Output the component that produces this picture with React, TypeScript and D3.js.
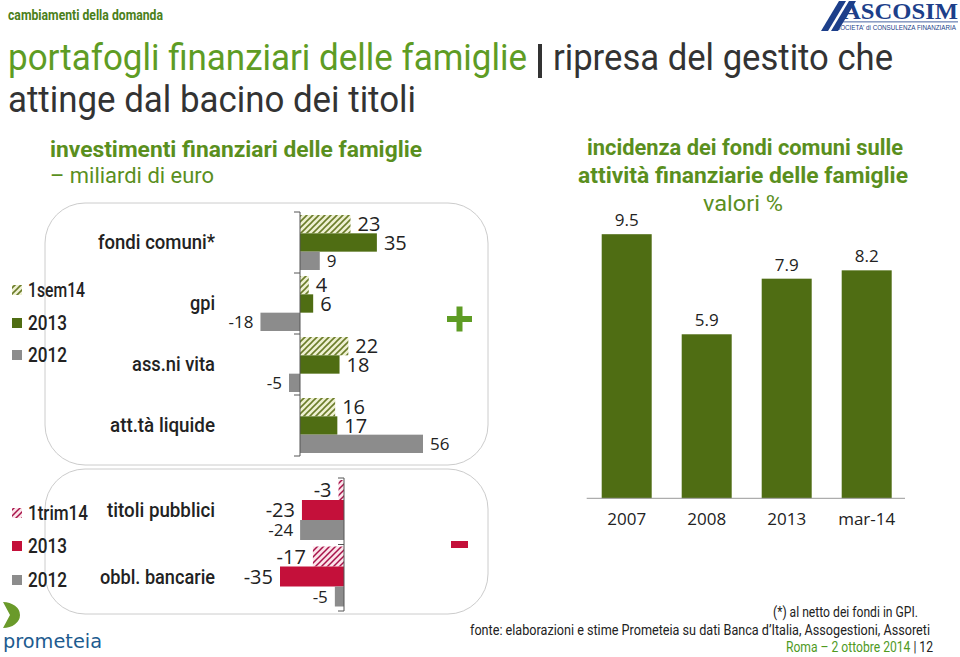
import React from 'react';
import * as d3 from 'd3';

// ---------- data ----------
const topCategories = ["fondi comuni*", "gpi", "ass.ni vita", "att.tà liquide"];
const topSeries = ["1sem14", "2013", "2012"];
const top1sem14 = [23, 4, 22, 16];
const top2013 = [35, 6, 18, 17];
const top2012 = [9, -18, -5, 56];

const bottomCategories = ["titoli pubblici", "obbl. bancarie"];
const bottomSeries = ["1trim14", "2013", "2012"];
const bottom1trim14 = [-3, -17];
const bottom2013 = [-23, -35];
const bottom2012 = [-24, -5];

const shareCategories = ["2007", "2008", "2013", "mar-14"];
const shareValues = [9.5, 5.9, 7.9, 8.2];

// ---------- styles ----------
const COND = "'Roboto', 'Liberation Sans', sans-serif";
const NUM = "'Open Sans', 'Liberation Sans', sans-serif";
const GREEN_DARK = "#4f6d13";
const GREEN_TITLE = "#5e9c24";
const GREEN_SUB = "#5a8f1e";
const GRAY = "#8c8c8c";
const RED = "#c4103a";
const TEXT = "#222222";
const DARK = "#333333";

// widths of category / legend labels in the reference (text fitting)
const topCatWidth = [117, 25, 83, 105];
const bottomCatWidth = [108, 115];
const topLegendWidth = [57, 39, 39];
const bottomLegendWidth = [60, 39, 39];

const T = (props: any) => {
  const { w, children, ...rest } = props;
  return (
    <text {...rest} textLength={w} lengthAdjust={w ? 'spacingAndGlyphs' : undefined}>{children}</text>
  );
};

export default function App() {
  // top chart
  const xTop = d3.scaleLinear().domain([0, 56]).range([300, 423]);
  const yTop = d3.scaleBand<string>().domain(topCategories).range([212, 456]);
  const subTop = d3.scaleBand<string>().domain(topSeries).range([3, 58]);
  const topData = [top1sem14, top2013, top2012];
  const topFill = ["url(#hatchG)", GREEN_DARK, GRAY];
  const topLabelSize = [20, 20, 17];

  // bottom chart
  const xBot = d3.scaleLinear().domain([-35, 0]).range([280, 344]);
  const yBot = d3.scaleBand<string>().domain(bottomCategories).range([478, 611]);
  const subBot = d3.scaleBand<string>().domain(bottomSeries).range([2, 62]);
  const botData = [bottom1trim14, bottom2013, bottom2012];
  const botFill = ["url(#hatchR)", RED, GRAY];
  const botLabelSize = [20, 20, 17];

  // right chart
  const xShare = d3.scaleBand<string>().domain(shareCategories).range([586.7, 906.7]).paddingInner(0.375).paddingOuter(0.1875);
  const yShare = d3.scaleLinear().domain([0, 10]).range([498.3, 220.3]);

  const hBars = (
    cats: string[], series: string[], data: number[][], x: any, y: any, sub: any,
    fills: string[], sizes: number[]
  ) => {
    const out: any[] = [];
    cats.forEach((c, i) => {
      series.forEach((s, j) => {
        const v = data[j][i];
        const x0 = x(0), x1 = x(v);
        const yy = y(c) + sub(s);
        const h = sub.bandwidth();
        out.push(
          <rect key={`b-${c}-${s}`} x={Math.min(x0, x1)} y={yy} width={Math.abs(x1 - x0)} height={h} fill={fills[j]} />
        );
        out.push(
          <text key={`t-${c}-${s}`} x={v >= 0 ? x1 + 7 : x1 - 7} y={yy + h / 2} dy="0.36em"
            textAnchor={v >= 0 ? 'start' : 'end'} fontFamily={NUM} fontSize={sizes[j]} fill={TEXT}>
            {v}
          </text>
        );
      });
    });
    return out;
  };

  const axis = (x0: number, y: any, n: number) => {
    const [r0, r1] = y.range();
    const ticks = d3.range(n + 1).map(i => r0 + i * y.step());
    return (
      <g stroke="#555" strokeWidth={1}>
        <line x1={x0} x2={x0} y1={r0} y2={r1} />
        {ticks.map((t, i) => <line key={i} x1={x0 - 6} x2={x0} y1={t} y2={t} />)}
      </g>
    );
  };

  const legend = (series: string[], fills: string[], widths: number[], baselines: number[]) =>
    series.map((s, i) => (
      <g key={s}>
        <rect x={12} y={baselines[i] - 12} width={10} height={10} fill={fills[i]} />
        <T x={28} y={baselines[i]} w={widths[i]} fontFamily={COND} fontWeight={500} fontSize={21} fill={TEXT}>{s}</T>
      </g>
    ));

  return (
    <svg width={960} height={657} style={{ position: 'absolute', left: 0, top: 0, display: 'block', background: '#fff' }}>
      <defs>
        <pattern id="hatchG" patternUnits="userSpaceOnUse" width={6} height={6}>
          <rect width={6} height={6} fill="#eef0d2" />
          <path d="M0,6 L6,0 M-1.5,1.5 L1.5,-1.5 M4.5,7.5 L7.5,4.5" stroke="#6b7d2a" strokeWidth={1.6} />
        </pattern>
        <pattern id="hatchR" patternUnits="userSpaceOnUse" width={6} height={6}>
          <rect width={6} height={6} fill="#fbe4ea" />
          <path d="M0,6 L6,0 M-1.5,1.5 L1.5,-1.5 M4.5,7.5 L7.5,4.5" stroke="#a8134a" strokeWidth={1.5} />
        </pattern>
      </defs>

      {/* header */}
      <T x={8} y={20} w={155} fontFamily={COND} fontWeight="bold" fontSize={14} fill="#4b7f1a">cambiamenti della domanda</T>
      <T x={8} y={70} w={519} fontFamily={COND} fontSize={37} fill={GREEN_TITLE}>portafogli finanziari delle famiglie</T>
      <rect x={538} y={44} width={4} height={34} fill={DARK} />
      <T x={553} y={70} w={340} fontFamily={COND} fontSize={37} fill={DARK}>ripresa del gestito che</T>
      <T x={8} y={112} w={408} fontFamily={COND} fontSize={37} fill={DARK}>attinge dal bacino dei titoli</T>

      {/* ASCOSIM logo */}
      <g fill="#1d3f8a">
        <path d="M821,31 L828,31 L846,1 L839,1 Z" />
        <path d="M831,31 L838,31 L856,1 L849,1 Z" />
        <T x={843} y={19} w={115} fontFamily="'Liberation Serif', serif" fontWeight="bold" fontSize={24}>ASCOSIM</T>
        <rect x={843} y={21.5} width={115} height={0.8} />
        <T x={836} y={29.5} w={120} fontFamily="'Liberation Sans', sans-serif" fontSize={6.5}>SOCIETA' di CONSULENZA FINANZIARIA</T>
      </g>

      {/* left subtitle */}
      <T x={50} y={157} w={372} fontFamily={COND} fontWeight="bold" fontSize={22} fill={GREEN_SUB}>investimenti finanziari delle famiglie</T>
      <T x={50} y={183} w={164} fontFamily={COND} fontSize={22} fill={GREEN_SUB}>– miliardi di euro</T>

      {/* boxes */}
      <rect x={45} y={203} width={443} height={262} rx={40} ry={40} fill="none" stroke="#cccccc" strokeWidth={1} />
      <rect x={45} y={469} width={443} height={145} rx={40} ry={40} fill="none" stroke="#cccccc" strokeWidth={1} />

      {/* top legend */}
      {legend(topSeries, ["url(#hatchG)", GREEN_DARK, GRAY], topLegendWidth, [297, 330, 362])}

      {/* top chart */}
      {topCategories.map((c, i) => (
        <T key={c} x={215} y={(yTop(c) as number) + yTop.bandwidth() / 2 + 6} w={topCatWidth[i]} textAnchor="end"
          fontFamily={COND} fontWeight={500} fontSize={20} fill={TEXT}>{c}</T>
      ))}
      {hBars(topCategories, topSeries, topData, xTop, yTop, subTop, topFill, topLabelSize)}
      {axis(xTop(0), yTop, topCategories.length)}

      {/* plus */}
      <rect x={447} y={316} width={25} height={6} fill={GREEN_TITLE} />
      <rect x={456.5} y={306.5} width={6} height={25} fill={GREEN_TITLE} />

      {/* bottom legend */}
      {legend(bottomSeries, ["url(#hatchR)", RED, GRAY], bottomLegendWidth, [520, 553, 587])}

      {/* bottom chart */}
      {bottomCategories.map((c, i) => (
        <T key={c} x={215} y={(yBot(c) as number) + yBot.bandwidth() / 2 + 6} w={bottomCatWidth[i]} textAnchor="end"
          fontFamily={COND} fontWeight={500} fontSize={20} fill={TEXT}>{c}</T>
      ))}
      {hBars(bottomCategories, bottomSeries, botData, xBot, yBot, subBot, botFill, botLabelSize)}
      {axis(xBot(0), yBot, bottomCategories.length)}

      {/* minus */}
      <rect x={451} y={541} width={17} height={7} fill={RED} />

      {/* right chart titles */}
      <T x={745} y={155} w={316} textAnchor="middle" fontFamily={COND} fontWeight="bold" fontSize={22} fill={GREEN_SUB}>incidenza dei fondi comuni sulle</T>
      <T x={743} y={183} w={330} textAnchor="middle" fontFamily={COND} fontWeight="bold" fontSize={22} fill={GREEN_SUB}>attività finanziarie delle famiglie</T>
      <T x={743} y={211} w={80} textAnchor="middle" fontFamily={COND} fontSize={22} fill={GREEN_SUB}>valori %</T>

      {/* right chart */}
      {shareCategories.map((c, i) => (
        <g key={c}>
          <rect x={xShare(c)} y={yShare(shareValues[i])} width={xShare.bandwidth()}
            height={yShare(0) - yShare(shareValues[i])} fill={GREEN_DARK} />
          <text x={(xShare(c) as number) + xShare.bandwidth() / 2} y={yShare(shareValues[i]) - 8}
            textAnchor="middle" fontFamily={NUM} fontSize={17} fill={TEXT}>{shareValues[i].toFixed(1)}</text>
          <text x={(xShare(c) as number) + xShare.bandwidth() / 2} y={525}
            textAnchor="middle" fontFamily={NUM} fontSize={17} fill={TEXT}>{c}</text>
        </g>
      ))}
      <line x1={586.7} x2={905} y1={yShare(0)} y2={yShare(0)} stroke="#999" strokeWidth={1} />

      {/* prometeia logo */}
      <path d="M3,602 A17,13 0 0 1 3,628 L10,615 Z" fill="#6a9a2a" />
      <T x={3} y={648} w={99} fontFamily="'DejaVu Sans', sans-serif" fontSize={20} fill="#1d5b8f">prometeia</T>

      {/* footer */}
      <T x={918} y={617} w={145} textAnchor="end" fontFamily={COND} fontSize={15} fill={TEXT}>(*) al netto dei fondi in GPI.</T>
      <T x={930} y={635} w={460} textAnchor="end" fontFamily={COND} fontSize={15} fill={TEXT}>fonte: elaborazioni e stime Prometeia su dati Banca d’Italia, Assogestioni, Assoreti</T>
      <T x={933} y={652} w={147} textAnchor="end" fontFamily={COND} fontSize={15}>
        <tspan fill="#4f9a1f">Roma – 2 ottobre 2014 </tspan>
        <tspan fill={TEXT}>| 12</tspan>
      </T>
    </svg>
  );
}
